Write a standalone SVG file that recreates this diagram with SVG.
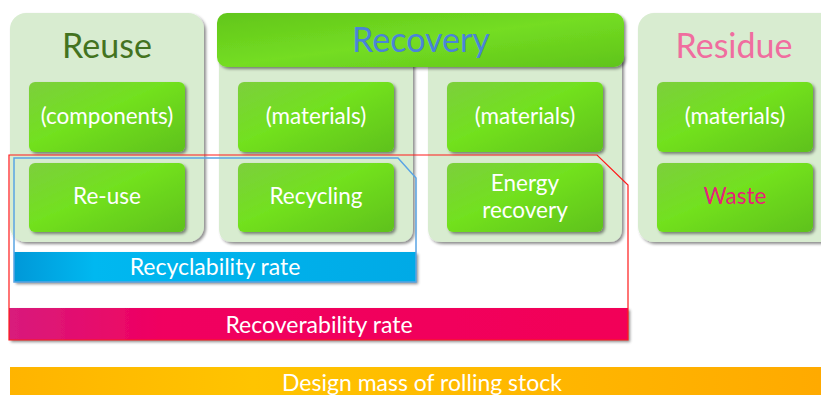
<svg xmlns="http://www.w3.org/2000/svg" width="821" height="395" viewBox="0 0 821 395">
<defs>
<filter id="sh" x="-10%" y="-10%" width="125%" height="130%">
<feDropShadow dx="2" dy="2" stdDeviation="1.5" flood-color="#000" flood-opacity="0.45"/>
</filter>
<linearGradient id="gbox" x1="0" y1="0" x2="1" y2="1">
<stop offset="0" stop-color="#7ccf3c"/>
<stop offset="0.45" stop-color="#72e11f"/>
<stop offset="1" stop-color="#5fc11a"/>
</linearGradient>
<linearGradient id="gban" x1="0" y1="0" x2="1" y2="1">
<stop offset="0" stop-color="#62c61b"/>
<stop offset="0.5" stop-color="#74dd22"/>
<stop offset="1" stop-color="#60c41a"/>
</linearGradient>
<linearGradient id="gmag" x1="0" y1="0" x2="1" y2="0">
<stop offset="0" stop-color="#d81b7c"/>
<stop offset="0.25" stop-color="#f00060"/>
<stop offset="1" stop-color="#f20058"/>
</linearGradient>
<linearGradient id="gblu" x1="0" y1="0" x2="1" y2="0">
<stop offset="0" stop-color="#0398d8"/>
<stop offset="0.2" stop-color="#06b8f0"/>
<stop offset="1" stop-color="#00aae6"/>
</linearGradient>
<linearGradient id="gora" x1="0" y1="0" x2="1" y2="0">
<stop offset="0" stop-color="#ffb400"/>
<stop offset="0.3" stop-color="#ffc400"/>
<stop offset="1" stop-color="#ffaa00"/>
</linearGradient>
</defs>
<style>
text{font-family:Lato,"Open Sans","Liberation Sans",sans-serif;text-anchor:middle}
.panel{fill:#d8ecd0;filter:url(#sh)}
.box{fill:url(#gbox);filter:url(#sh)}
.t{fill:#ffffff;font-size:22.5px}
.b{fill:#ffffff;font-size:23px}
.title{font-size:34px}
</style>

<g id="reuse-panel">
<rect class="panel" x="10" y="13" width="194" height="229" rx="16"/>
<text class="title" x="107" y="58" fill="#43731f">Reuse</text>
</g>
<g id="recovery-panel">
<path class="panel" d="M219 55 H413 V228 Q413 242 399 242 H233 Q219 242 219 228 Z"/>
<path class="panel" d="M428 55 H622 V228 Q622 242 608 242 H442 Q428 242 428 228 Z"/>
<rect x="217" y="13" width="407" height="54" rx="10" fill="url(#gban)" filter="url(#sh)"/>
<text class="title" x="421" y="52" fill="#4a84d8">Recovery</text>
</g>
<g id="residue-panel">
<rect class="panel" x="638" y="13" width="200" height="229" rx="16"/>
<text class="title" x="734" y="58" fill="#f06d9f">Residue</text>
</g>

<g id="reuse-components">
<rect class="box" x="29" y="82" width="156" height="70" rx="6"/>
<text class="t" x="107" y="124">(components)</text>
</g>
<g id="recycling-materials">
<rect class="box" x="238" y="82" width="156" height="70" rx="6"/>
<text class="t" x="316" y="124">(materials)</text>
</g>
<g id="energy-materials">
<rect class="box" x="447" y="82" width="156" height="70" rx="6"/>
<text class="t" x="525" y="124">(materials)</text>
</g>
<g id="residue-materials">
<rect class="box" x="657" y="82" width="156" height="70" rx="6"/>
<text class="t" x="735" y="124">(materials)</text>
</g>
<g id="re-use">
<rect class="box" x="29" y="163" width="156" height="69" rx="6"/>
<text class="t" x="107" y="204">Re-use</text>
</g>
<g id="recycling">
<rect class="box" x="238" y="163" width="156" height="69" rx="6"/>
<text class="t" x="316" y="204">Recycling</text>
</g>
<g id="energy-recovery">
<rect class="box" x="447" y="163" width="156" height="69" rx="6"/>
<text class="t" x="525" y="191">Energy</text>
<text class="t" x="525" y="218">recovery</text>
</g>
<g id="waste">
<rect class="box" x="657" y="163" width="156" height="69" rx="6"/>
<text class="t" x="735" y="204" style="fill:#e8207a">Waste</text>
</g>

<g id="recyclability-rate">
<rect x="14" y="252" width="402" height="30" fill="url(#gblu)" filter="url(#sh)"/>
<text class="b" x="215" y="275">Recyclability rate</text>
<polygon points="14,158 398,158 416,178 416,282 14,282" fill="none" stroke="#5aa4e4" stroke-width="1.5"/>
</g>
<g id="recoverability-rate">
<rect x="9" y="308" width="619" height="32" fill="url(#gmag)" filter="url(#sh)"/>
<text class="b" x="319" y="333">Recoverability rate</text>
<polygon points="9,155 597,155 628,185 628,340 9,340" fill="none" stroke="#ff1a1a" stroke-width="1.2"/>
</g>
<g id="design-mass">
<rect x="10" y="367" width="811" height="28" fill="url(#gora)"/>
<text class="b" x="422" y="391">Design mass of rolling stock</text>
</g>
<g id="connectors"></g>
</svg>
